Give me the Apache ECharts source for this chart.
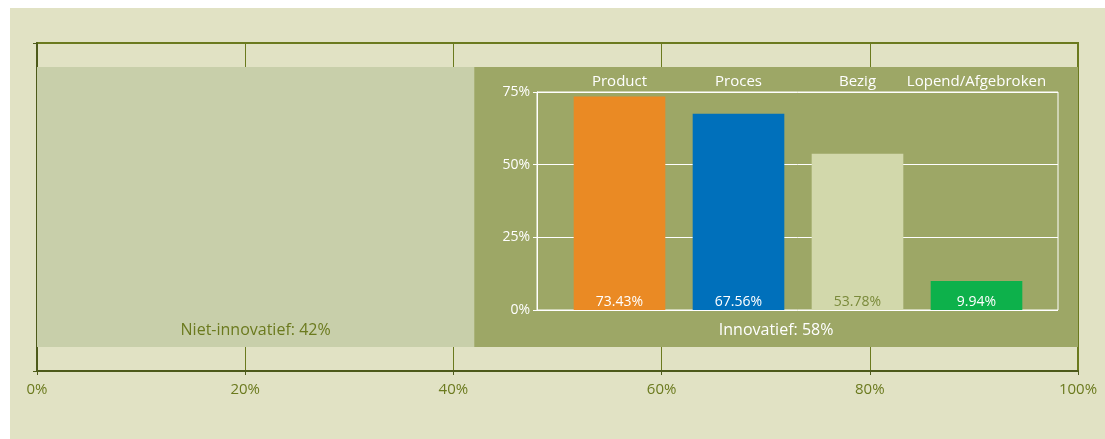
<!DOCTYPE html>
<html>
<head>
<meta charset="utf-8">
<script src="https://cdn.jsdelivr.net/npm/echarts@6/dist/echarts.min.js"></script>
<style>
  html, body { margin: 0; padding: 0; background: #ffffff; width: 1105px; height: 439px; overflow: hidden; }
  #chart { position: absolute; left: 10px; top: 8px; width: 1095px; height: 431px; background: #e1e2c4; }
</style>
</head>
<body>
<div id="chart"></div>
<script>
// Share of firms: innovative vs. not innovative
const shareNames = ['Niet-innovatief', 'Innovatief'];
const shareValues = [42, 58];
const shareColors = ['#c8cfaa', '#9da766'];
const shareLabelColors = ['#6b7a1e', '#ffffff'];

// Type of innovation among the innovative firms
const typeNames = ['Product', 'Proces', 'Bezig', 'Lopend/Afgebroken'];
const typeValues = [73.43, 67.56, 53.78, 9.94];
const typeColors = ['#ea8a24', '#0070bb', '#d2d8ab', '#0db14b'];
const typeLabelColors = ['#ffffff', '#ffffff', '#7a8a3a', '#ffffff'];

const FONT = '"Open Sans", "Noto Sans", sans-serif';
const OLIVE = '#6b7a1e';
const DARK = '#4d5a1a';

const chart = echarts.init(document.getElementById('chart'));

const shareSeries = shareNames.map((name, i) => ({
  name: name,
  type: 'bar',
  stack: 'share',
  xAxisIndex: 0,
  yAxisIndex: 0,
  barWidth: 280,
  z: 2,
  data: [shareValues[i]],
  itemStyle: { color: shareColors[i] },
  label: {
    show: true,
    position: 'insideBottom',
    distance: 9,
    formatter: name + ': {c}%',
    color: shareLabelColors[i],
    fontFamily: FONT,
    fontSize: 16
  },
  emphasis: { disabled: true }
}));

const typeSeries = {
  type: 'bar',
  xAxisIndex: 2,
  yAxisIndex: 2,
  barWidth: '77%',
  z: 5,
  data: typeValues.map((v, i) => ({
    value: v,
    itemStyle: { color: typeColors[i] },
    label: { color: typeLabelColors[i] }
  })),
  label: {
    show: true,
    position: 'insideBottom',
    distance: 1,
    formatter: p => p.value.toFixed(2) + '%',
    fontFamily: FONT,
    fontSize: 14
  },
  emphasis: { disabled: true }
};

chart.setOption({
  animation: false,
  grid: [
    { left: 27, top: 35, width: 1041, height: 328, show: true, borderColor: OLIVE, borderWidth: 2, backgroundColor: 'transparent' },
    { left: 527, top: 84, width: 521, height: 218, show: true, borderColor: '#ffffff', borderWidth: 1, z: 4 },
    { left: 550, top: 84, width: 476, height: 218 }
  ],
  xAxis: [
    {
      gridIndex: 0, type: 'value', min: 0, max: 100, interval: 20,
      axisLine: { show: true, lineStyle: { color: DARK, width: 2 } },
      axisTick: { show: true, length: 4, lineStyle: { color: DARK } },
      splitLine: { show: true, lineStyle: { color: OLIVE, width: 1 } },
      axisLabel: { color: OLIVE, fontFamily: FONT, fontSize: 15, margin: 11, formatter: '{value}%' }
    },
    {
      gridIndex: 1, type: 'value', min: 0, max: 1, show: false
    },
    {
      gridIndex: 2, type: 'category', position: 'top', data: typeNames, z: 6,
      axisLine: { show: false }, axisTick: { show: false },
      axisLabel: { color: '#ffffff', fontFamily: FONT, fontSize: 15, margin: 3, interval: 0 }
    }
  ],
  yAxis: [
    {
      gridIndex: 0, type: 'category', data: [''],
      axisLine: { show: true, lineStyle: { color: DARK, width: 2 } },
      axisTick: { show: true, length: 4, lineStyle: { color: DARK } },
      axisLabel: { show: false }
    },
    {
      gridIndex: 1, type: 'value', min: 0, max: 75, interval: 25, z: 4,
      axisLine: { show: true, lineStyle: { color: '#ffffff', width: 1 } },
      axisTick: { show: true, length: 4, lineStyle: { color: '#ffffff' } },
      splitLine: { show: true, lineStyle: { color: '#ffffff', width: 1 } },
      axisLabel: { color: '#ffffff', fontFamily: FONT, fontSize: 14, margin: 7, formatter: '{value}%' }
    },
    {
      gridIndex: 2, type: 'value', min: 0, max: 75, show: false
    }
  ],
  series: shareSeries.concat([typeSeries])
});
</script>
</body>
</html>
